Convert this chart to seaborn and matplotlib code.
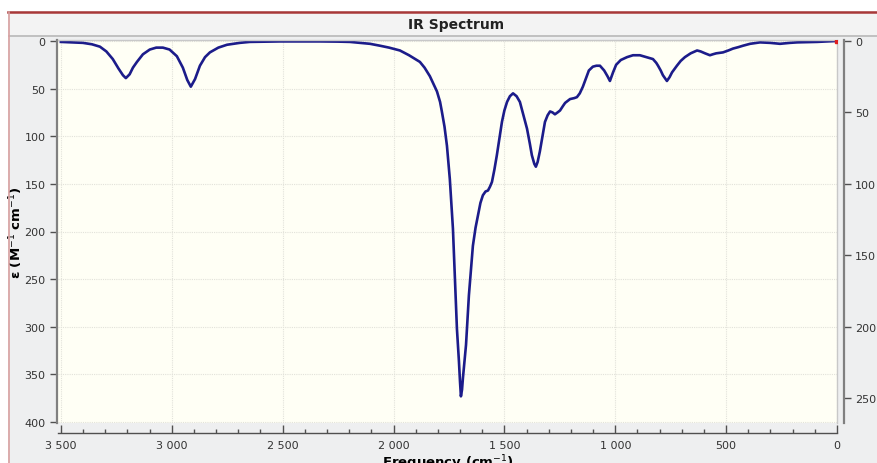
import matplotlib
matplotlib.use("Agg")
import matplotlib.pyplot as plt
import matplotlib.ticker as mticker
from matplotlib.patches import Rectangle
from matplotlib.lines import Line2D
import seaborn as sns
import pandas as pd

# ---- data ----
wavenumber = [3500, 3450, 3401, 3360, 3324, 3295, 3266, 3240, 3220, 3207,
              3190, 3175, 3157, 3130, 3099, 3070, 3040, 3010, 2977, 2950,
              2930, 2914, 2895, 2873, 2850, 2828, 2790, 2751, 2693, 2648,
              2512, 2400, 2332, 2250, 2197, 2150, 2106, 2061, 2020, 1971,
              1930, 1881, 1860, 1836, 1820, 1804, 1790, 1782, 1770, 1759,
              1746, 1732, 1723, 1714, 1705, 1700, 1696, 1691, 1687, 1680,
              1673, 1660, 1642, 1630, 1619, 1608, 1597, 1585, 1574, 1565,
              1556, 1545, 1534, 1522, 1511, 1500, 1488, 1475, 1461, 1445,
              1430, 1415, 1398, 1385, 1376, 1365, 1358, 1350, 1340, 1328,
              1317, 1305, 1294, 1283, 1272, 1260, 1249, 1235, 1226, 1204,
              1185, 1173, 1160, 1146, 1130, 1119, 1101, 1085, 1069, 1050,
              1035, 1024, 1010, 996, 975, 947, 920, 889, 860, 830,
              815, 807, 795, 785, 767, 755, 744, 722, 705, 686,
              660, 631, 615, 595, 573, 560, 545, 514, 490, 469,
              445, 424, 392, 347, 302, 257, 212, 180, 90, 0]
epsilon = [1, 1.5, 2, 3.5, 6, 11, 19, 29, 36, 39,
           35, 28, 22, 14, 9, 7, 7, 9, 16, 28,
           41, 48, 40, 26, 17, 12, 7, 4, 2, 1,
           0.5, 0.5, 0.5, 0.7, 1, 2, 3, 5, 7, 10,
           15, 22, 28, 37, 45, 53, 64, 74, 90, 110,
           145, 197, 249, 302, 336, 358, 373, 366, 354, 337,
           319, 267, 215, 196, 183, 170, 162, 158, 157, 153,
           148, 135, 120, 102, 85, 73, 64, 58, 55, 58,
           64, 77, 92, 108, 120, 129, 132, 127, 116, 100,
           85, 78, 74, 75, 77, 75, 73, 68, 65, 61,
           60, 59, 55, 48, 38, 31, 27, 26, 26, 31,
           37, 42, 33, 25, 20, 17, 15, 15, 17, 19,
           23, 26, 31, 36, 42, 38, 33, 26, 21, 17,
           13, 10, 11, 13, 15, 14, 13, 12, 10, 8,
           6.5, 5, 3, 1.5, 2, 3, 2, 1.5, 1, 0]

x_major = [3500, 3000, 2500, 2000, 1500, 1000, 500, 0]
x_labels = ["3 500", "3 000", "2 500", "2 000", "1 500", "1 000", "500", "0"]
y_left_ticks = [0, 50, 100, 150, 200, 250, 300, 350, 400]
y_right_ticks = [0, 50, 100, 150, 200, 250]

df = pd.DataFrame({"wn": wavenumber, "eps": epsilon})

W, H = 877, 464
fig = plt.figure(figsize=(W / 100, H / 100), dpi=100)
fig.patch.set_facecolor("#EEEFF0")

# window frame: white strip on top/left, red border, title band
fig.add_artist(Rectangle((0, 1 - 12 / H), 1, 12 / H, transform=fig.transFigure,
                         facecolor="white", edgecolor="none", zorder=0))
fig.add_artist(Rectangle((0, 0), 8 / W, 1, transform=fig.transFigure,
                         facecolor="white", edgecolor="none", zorder=0))
fig.add_artist(Rectangle((9 / W, 1 - 37 / H), 1, 24 / H, transform=fig.transFigure,
                         facecolor="#F3F3F3", edgecolor="none", zorder=0))
fig.add_artist(Line2D([9 / W, 1], [1 - 37 / H, 1 - 37 / H], transform=fig.transFigure,
                      color="#B8B8B8", lw=1.2, zorder=1))
fig.add_artist(Line2D([8 / W, 1], [1 - 12.5 / H, 1 - 12.5 / H], transform=fig.transFigure,
                      color="#A83838", lw=1.8, zorder=2))
fig.add_artist(Line2D([8.5 / W, 8.5 / W], [0, 1 - 12.5 / H], transform=fig.transFigure,
                      color="#D8A0A0", lw=1.2, zorder=2))

ax = fig.add_axes([58 / W, 1 - 424 / H, 779 / W, 383 / H])
ax.set_facecolor("#FFFFF5")

sns.lineplot(data=df, x="wn", y="eps", ax=ax, color="#1C1C8A", lw=1.9,
             sort=False, estimator=None, solid_joinstyle="round")
ax.plot([0], [0], marker="s", ms=3, color="#E02020", zorder=5)

ax.set_xlim(3513, 0)
ax.set_ylim(401, -1)

ax.set_xticks(x_major)
ax.set_xticklabels(x_labels)
ax.xaxis.set_minor_locator(mticker.MultipleLocator(100))
ax.set_yticks(y_left_ticks)

ax.grid(True, which="major", color="#E2E2DA", lw=0.8, ls=(0, (1, 1)))
ax.set_axisbelow(True)

for s in ["top", "right"]:
    ax.spines[s].set_color("#C8C8C8")
    ax.spines[s].set_linewidth(1.0)
ax.spines["bottom"].set_position(("outward", 7))
ax.spines["bottom"].set_color("#505050")
ax.spines["bottom"].set_linewidth(1.0)
ax.spines["left"].set_position(("outward", 1))
ax.spines["left"].set_color("#808080")
ax.spines["left"].set_linewidth(1.6)

ax.tick_params(axis="x", which="major", direction="in", length=6, width=1,
               color="#505050", labelsize=8, labelcolor="#333333", pad=5)
ax.tick_params(axis="x", which="minor", direction="in", length=3, width=1,
               color="#505050")
ax.tick_params(axis="y", which="major", direction="out", length=5, width=1,
               color="#505050", labelsize=8, labelcolor="#333333", pad=3)

ax.set_xlabel("Frequency (cm$^{-1}$)", fontsize=9.5, fontweight="bold",
              labelpad=2)
ax.set_ylabel("ε (M$^{-1}$ cm$^{-1}$)", fontsize=9.5, fontweight="bold")
ax.yaxis.set_label_coords((25 - 58) / 779, 0.5)

ax2 = ax.twinx()
ax2.set_ylim(401 / 1.5, -1 / 1.5)
ax2.set_yticks(y_right_ticks)
for s in ["top", "left", "bottom"]:
    ax2.spines[s].set_visible(False)
ax2.spines["right"].set_position(("outward", 5))
ax2.spines["right"].set_color("#808080")
ax2.spines["right"].set_linewidth(1.6)
ax2.tick_params(axis="y", direction="out", length=5, width=1, color="#505050",
                labelsize=8, labelcolor="#333333", pad=3)

fig.text(456 / W, 1 - 25 / H, "IR Spectrum", ha="center", va="center",
         fontsize=10, fontweight="bold", color="#222222")
fig.text(875 / W, 1 - 232 / H, "Intensity (km mol$^{-1}$)", rotation=270,
         ha="left", va="center", fontsize=9, fontweight="bold", color="#B06028")

fig.savefig("out.png", dpi=100, facecolor=fig.get_facecolor())
